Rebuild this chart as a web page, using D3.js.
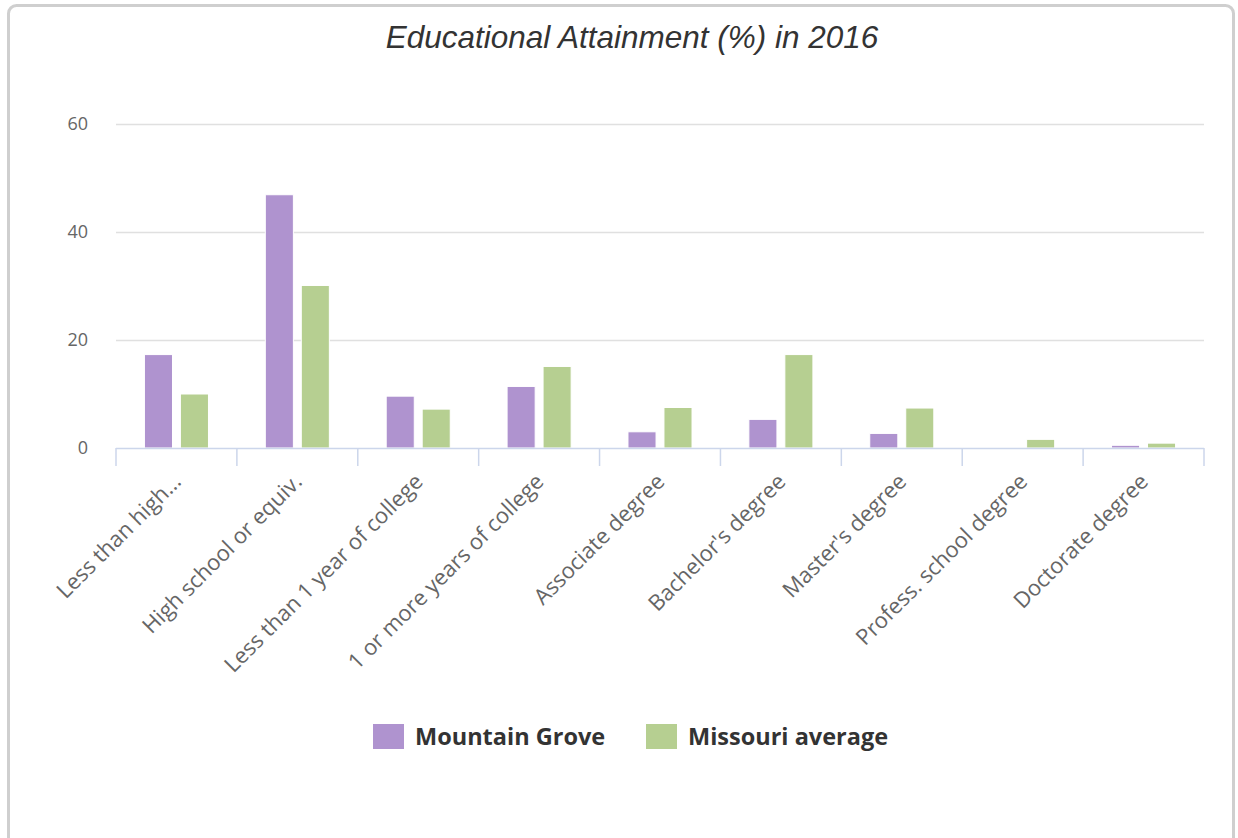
<!DOCTYPE html>
<html>
<head>
<meta charset="utf-8">
<script src="https://cdn.jsdelivr.net/npm/d3@7"></script>
<style>
  body { margin: 0; background: #fff; }
  svg { display: block; }
</style>
</head>
<body>
<svg id="chart" width="1238" height="838"></svg>
<script>
var categories = ["Less than high...", "High school or equiv.", "Less than 1 year of college",
    "1 or more years of college", "Associate degree", "Bachelor's degree",
    "Master's degree", "Profess. school degree", "Doctorate degree"];
var seriesNames = ["Mountain Grove", "Missouri average"];
var mountainGrove = [17.3, 46.9, 9.6, 11.4, 3.0, 5.3, 2.7, 0, 0.5];
var missouriAvg = [10.0, 30.1, 7.2, 15.1, 7.5, 17.3, 7.4, 1.6, 0.9];
var yTicks = [0, 20, 40, 60];
var colors = ["#af93cf", "#b6cf91"];

var svg = d3.select("#chart");
var margin = { top: 124, left: 116, right: 34, bottom: 390 };
var width = 1238 - margin.left - margin.right;
var height = 838 - margin.top - margin.bottom;

// outer frame
svg.append("rect")
    .attr("x", 8.5).attr("y", 5.5)
    .attr("width", 1225).attr("height", 840)
    .attr("rx", 8)
    .attr("fill", "#fff")
    .attr("stroke", "#cfcfcf")
    .attr("stroke-width", 3);

svg.append("text")
    .attr("x", 632).attr("y", 48)
    .attr("text-anchor", "middle")
    .style("font-family", "'Liberation Sans', Arial, sans-serif")
    .style("font-style", "italic")
    .style("font-size", "31.5px")
    .style("fill", "#333")
    .text("Educational Attainment (%) in 2016");

var g = svg.append("g").attr("transform", "translate(" + margin.left + "," + margin.top + ")");

var x0 = d3.scaleBand().domain(categories).range([0, width]);
var x1 = d3.scaleBand().domain(seriesNames).range([0, x0.bandwidth()])
    .paddingInner(0.22).paddingOuter(0.79);
var y = d3.scaleLinear().domain([0, 60]).range([height, 0]);

// grid
g.append("g")
    .selectAll("line")
    .data(yTicks.filter(function (d) { return d > 0; }))
    .enter().append("line")
    .attr("x1", 0).attr("x2", width)
    .attr("y1", function (d) { return y(d) + 0.5; })
    .attr("y2", function (d) { return y(d) + 0.5; })
    .attr("stroke", "#e0e0e0")
    .attr("stroke-width", 1.5);

// y labels
var yAxis = g.append("g")
    .call(d3.axisLeft(y).tickValues(yTicks).tickSize(0).tickPadding(28));
yAxis.select(".domain").remove();
yAxis.selectAll("text")
    .style("font-family", "'Open Sans', sans-serif")
    .style("font-size", "18px")
    .style("fill", "#666");

// bars
var rows = categories.map(function (c, i) {
    return { cat: c, values: [mountainGrove[i], missouriAvg[i]] };
});
var groups = g.selectAll(".grp").data(rows).enter().append("g")
    .attr("class", "grp")
    .attr("transform", function (d) { return "translate(" + x0(d.cat) + ",0)"; });
groups.selectAll("rect")
    .data(function (d) { return d.values.map(function (v, k) { return { name: seriesNames[k], v: v, k: k }; }); })
    .enter().append("rect")
    .filter(function (d) { return d.v > 0; })
    .attr("x", function (d) { return x1(d.name); })
    .attr("width", x1.bandwidth())
    .attr("y", function (d) { return y(d.v); })
    .attr("height", function (d) { return height - y(d.v); })
    .attr("fill", function (d) { return colors[d.k]; })
    .attr("stroke", "#fff")
    .attr("stroke-width", 1);

// x axis
var xAxisG = g.append("g").attr("transform", "translate(0," + height + ")");
xAxisG.append("line")
    .attr("x1", 0).attr("x2", width).attr("y1", 0.5).attr("y2", 0.5)
    .attr("stroke", "#ccd6eb").attr("stroke-width", 1.5);
var bounds = categories.map(function (c) { return x0(c); }).concat([width]);
xAxisG.selectAll(".tk").data(bounds).enter().append("line")
    .attr("x1", function (d) { return d; }).attr("x2", function (d) { return d; })
    .attr("y1", 0).attr("y2", 18)
    .attr("stroke", "#ccd6eb").attr("stroke-width", 1.5);
xAxisG.selectAll(".lbl").data(categories).enter().append("text")
    .attr("text-anchor", "end")
    .attr("transform", function (d) {
        return "translate(" + (x0(d) + x0.bandwidth() / 2 + 6) + ",35) rotate(-45)";
    })
    .style("font-family", "'Open Sans', sans-serif")
    .style("font-size", "22px")
    .style("fill", "#666")
    .text(function (d) { return d; });

// legend
var legend = svg.append("g").attr("transform", "translate(373,724)");
var legX = [0, 273];
seriesNames.forEach(function (name, k) {
    var lg = legend.append("g").attr("transform", "translate(" + legX[k] + ",0)");
    lg.append("rect").attr("width", 31).attr("height", 25).attr("fill", colors[k]);
    lg.append("text")
        .attr("x", 42).attr("y", 21)
        .style("font-family", "'Open Sans', sans-serif")
        .style("font-weight", "bold")
        .style("font-size", "23.5px")
        .style("fill", "#333")
        .text(name);
});
</script>
</body>
</html>
